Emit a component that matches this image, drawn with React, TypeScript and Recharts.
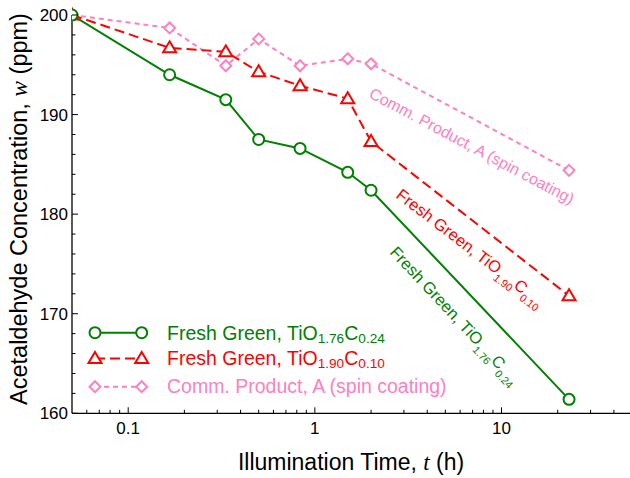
import React from 'react';
import { LineChart, Line, XAxis, YAxis, Customized } from 'recharts';

// illumination time (h); first point is t = 0, drawn on the left axis
const TIME_H = [0.05, 0.1667, 0.3333, 0.5, 0.8333, 1.5, 2, 23];
const GREEN_176 = [200, 194.0, 191.5, 187.5, 186.6, 184.2, 182.4, 161.4];
const RED_190 = [200, 196.7, 196.3, 194.3, 192.9, 191.6, 187.3, 171.8];
const PINK_COMM = [200, 198.7, 194.9, 197.6, 194.9, 195.6, 195.1, 184.4];

const X_MAJOR = [0.1, 1, 10];
const X_TICKS = [
  0.06, 0.07, 0.08, 0.09, 0.1,
  0.2, 0.3, 0.4, 0.5, 0.6, 0.7, 0.8, 0.9, 1,
  2, 3, 4, 5, 6, 7, 8, 9, 10,
  20, 30, 40,
];
const Y_TICKS = [160, 162, 164, 166, 168, 170, 172, 174, 176, 178, 180, 182, 184, 186, 188, 190, 192, 194, 196, 198, 200];

const GREEN = '#008000';
const RED = '#ff0000';
const PINK = '#ff80c0';
const FONT = '"Liberation Sans", Arial, sans-serif';

const data = TIME_H.map((t, i) => ({ t, g: GREEN_176[i], r: RED_190[i], p: PINK_COMM[i] }));

const isMajorX = (v: number) => X_MAJOR.some(m => Math.abs(m - v) < 1e-9);

const Triangle = ({ cx, cy, color }: any) => (
  <polygon
    points={`${cx},${cy - 6.5} ${cx + 6.5},${cy + 4.5} ${cx - 6.5},${cy + 4.5}`}
    fill="#fff"
    stroke={color}
    strokeWidth={2}
  />
);

const Diamond = ({ cx, cy, color }: any) => (
  <polygon
    points={`${cx},${cy - 5.5} ${cx + 5.5},${cy} ${cx},${cy + 5.5} ${cx - 5.5},${cy}`}
    fill="#fff"
    stroke={color}
    strokeWidth={2}
  />
);

const Circle = ({ cx, cy, color }: any) => (
  <circle cx={cx} cy={cy} r={5.5} fill="#fff" stroke={color} strokeWidth={2} />
);

// TiO_a C_b with subscripts
const formula = (a: string, b: string, size: number, sub = 0.68, drop = 0.3) => {
  const s = size * sub;
  const d = size * drop;
  return [
    <tspan key="a">Fresh Green, TiO</tspan>,
    <tspan key="b" fontSize={s} dy={d}>{a}</tspan>,
    <tspan key="c" dy={-d}>C</tspan>,
    <tspan key="d" fontSize={s} dy={d}>{b}</tspan>,
  ];
};

const BottomTick = ({ x, y, payload }: any) => {
  const major = isMajorX(payload.value);
  return (
    <g>
      <line x1={x} x2={x} y1={y} y2={y - (major ? 6 : 3.5)} stroke="#000" strokeWidth={1} />
      {major && (
        <text x={x} y={y + 21} textAnchor="middle" fontSize={17} fontFamily={FONT} fill="#000">
          {payload.value}
        </text>
      )}
    </g>
  );
};

const TopTick = ({ x, y, payload }: any) => {
  const major = isMajorX(payload.value);
  return <line x1={x} x2={x} y1={y} y2={y + (major ? 6 : 3.5)} stroke="#000" strokeWidth={1} />;
};

const LeftTick = ({ x, y, payload }: any) => {
  const major = payload.value % 10 === 0;
  return (
    <g>
      <line x1={x} x2={x + (major ? 6 : 3.5)} y1={y} y2={y} stroke="#000" strokeWidth={1} />
      {major && (
        <text x={x - 4} y={y + 6} textAnchor="end" fontSize={17} fontFamily={FONT} fill="#000">
          {payload.value}
        </text>
      )}
    </g>
  );
};

const RightTick = ({ x, y, payload }: any) => {
  const major = payload.value % 10 === 0;
  return <line x1={x} x2={x - (major ? 6 : 3.5)} y1={y} y2={y} stroke="#000" strokeWidth={1} />;
};

const Decorations = () => (
  <g fontFamily={FONT}>
    {/* axis titles */}
    <text x={351} y={470} textAnchor="middle" fontSize={23} fill="#000">
      Illumination Time, <tspan fontFamily='"Liberation Serif", serif' fontStyle="italic">t</tspan> (h)
    </text>
    <text x={27} y={209} textAnchor="middle" fontSize={23.5} fill="#000" transform="rotate(-90 27 209)">
      Acetaldehyde Concentration, <tspan fontFamily='"Liberation Serif", serif' fontStyle="italic">w</tspan> (ppm)
    </text>

    {/* legend */}
    <line x1={95} x2={141.7} y1={332.7} y2={332.7} stroke={GREEN} strokeWidth={2} />
    <Circle cx={95} cy={332.7} color={GREEN} />
    <Circle cx={141.7} cy={332.7} color={GREEN} />
    <text x={167} y={339.5} fontSize={19.5} fill={GREEN}>{formula('1.76', '0.24', 19.5, 0.7, 0.2)}</text>

    <line x1={95} x2={141.7} y1={358.5} y2={358.5} stroke={RED} strokeWidth={2} strokeDasharray="10 5" />
    <Triangle cx={95} cy={358.5} color={RED} />
    <Triangle cx={141.7} cy={358.5} color={RED} />
    <text x={167} y={364.5} fontSize={19.5} fill={RED}>{formula('1.90', '0.10', 19.5, 0.7, 0.2)}</text>

    <line x1={95} x2={141.7} y1={386.7} y2={386.7} stroke={PINK} strokeWidth={2} strokeDasharray="5 4" />
    <Diamond cx={95} cy={386.7} color={PINK} />
    <Diamond cx={141.7} cy={386.7} color={PINK} />
    <text x={167} y={392.7} fontSize={19.5} fill={PINK}>Comm. Product, A (spin coating)</text>

    {/* in-plot labels */}
    <text x={368} y={97} fontSize={16} fill={PINK} transform="rotate(28 368 97)">
      Comm. Product, A (spin coating)
    </text>
    <text x={395} y={197} fontSize={16.5} fill={RED} transform="rotate(37.5 395 197)">
      {formula('1.90', '0.10', 16.5, 0.65, 0.35)}
    </text>
    <text x={389} y={253} fontSize={16.5} fill={GREEN} transform="rotate(47 389 253)">
      {formula('1.76', '0.24', 16.5, 0.65, 0.35)}
    </text>
  </g>
);

export default function App() {
  return (
    <div style={{ position: 'absolute', left: 0, top: 0, width: 630, height: 478, overflow: 'hidden', background: '#fff' }}>
      <LineChart width={632} height={478} data={data} margin={{ top: 15, right: 0, left: 12, bottom: 24.7 }}>
        <XAxis
          dataKey="t"
          type="number"
          scale="log"
          domain={[0.05, 50]}
          allowDataOverflow
          ticks={X_TICKS}
          interval={0}
          height={40}
          tickSize={0}
          tickMargin={0}
          tick={<BottomTick />}
          axisLine={{ stroke: '#000', strokeWidth: 1.3 }}
          tickLine={false}
        />
        <XAxis
          xAxisId="top"
          orientation="top"
          dataKey="t"
          type="number"
          scale="log"
          domain={[0.05, 50]}
          allowDataOverflow
          ticks={X_TICKS}
          interval={0}
          height={0}
          tickSize={0}
          tickMargin={0}
          tick={<TopTick />}
          axisLine={{ stroke: '#000', strokeWidth: 1.3 }}
          tickLine={false}
        />
        <YAxis
          type="number"
          domain={[160, 200]}
          ticks={Y_TICKS}
          interval={0}
          width={60}
          tickSize={0}
          tickMargin={0}
          tick={<LeftTick />}
          axisLine={{ stroke: '#000', strokeWidth: 1.3 }}
          tickLine={false}
        />
        <YAxis
          yAxisId="right"
          orientation="right"
          type="number"
          domain={[160, 200]}
          ticks={Y_TICKS}
          interval={0}
          width={0}
          tickSize={0}
          tickMargin={0}
          tick={<RightTick />}
          axisLine={{ stroke: '#000', strokeWidth: 1.3 }}
          tickLine={false}
        />
        <Line
          dataKey="p"
          stroke={PINK}
          strokeWidth={2}
          strokeDasharray="5 4"
          isAnimationActive={false}
          dot={(p: any) => <Diamond key={`p${p.index}`} cx={p.cx} cy={p.cy} color={PINK} />}
        />
        <Line
          dataKey="r"
          stroke={RED}
          strokeWidth={2}
          strokeDasharray="10 5"
          isAnimationActive={false}
          dot={(p: any) => <Triangle key={`r${p.index}`} cx={p.cx} cy={p.cy} color={RED} />}
        />
        <Line
          dataKey="g"
          stroke={GREEN}
          strokeWidth={2}
          isAnimationActive={false}
          dot={(p: any) => <Circle key={`g${p.index}`} cx={p.cx} cy={p.cy} color={GREEN} />}
        />
        <Customized component={Decorations} />
      </LineChart>
    </div>
  );
}
